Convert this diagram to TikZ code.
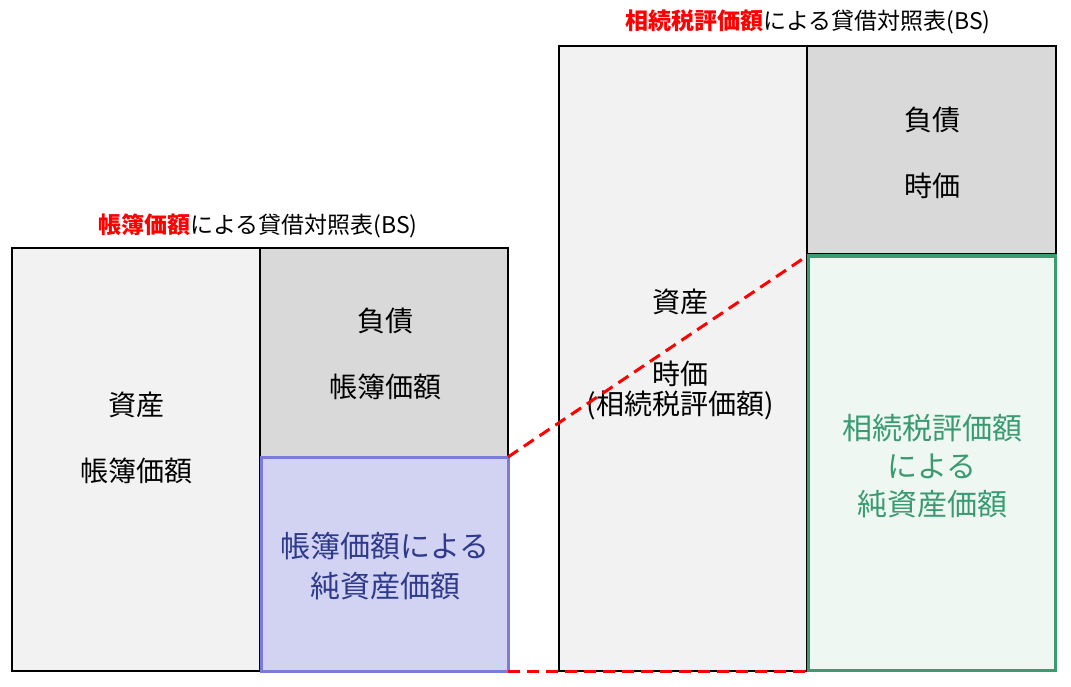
\documentclass[tikz,border=0pt]{standalone}
\usepackage{fontspec}
\setmainfont{Noto Sans CJK JP}
\usetikzlibrary{positioning}
\definecolor{assetgray}{HTML}{F2F2F2}
\definecolor{debtgray}{HTML}{D9D9D9}
\definecolor{bookfill}{HTML}{D2D2F3}
\definecolor{bookline}{HTML}{7B7BDB}
\definecolor{booktext}{HTML}{2E3A8C}
\definecolor{evalfill}{HTML}{EEF7F2}
\definecolor{evalline}{HTML}{3A9A70}
\definecolor{titlered}{HTML}{FF0000}
\begin{document}
\begin{tikzpicture}[x=1pt,y=-1pt,
        asset/.style={draw=black, fill=assetgray, line width=1.2pt},
        debt/.style={draw=black, fill=debtgray, line width=1.2pt},
        body/.style={font=\fontsize{28}{36}\selectfont, align=center},
        title/.style={font=\fontsize{23}{28}\selectfont},
        link/.style={draw=titlered, dash pattern=on 12pt off 7pt, line width=3pt}
    ]
    \useasboundingbox (0,0) rectangle (1071,687);

    % Left balance sheet (book value)
    \draw[asset] (12,248) rectangle (260,671);
    \draw[debt] (260,248) rectangle (508,457);
    \draw[fill=bookfill, draw=bookline, line width=3pt] (261,457) rectangle (508,671);
    \node[title] (booktitle) at (258,226) {\textcolor{titlered}{\bfseries 帳簿価額}による貸借対照表(BS)};
    \node[body] (bookasset) at (136,438) {資産\\[30pt]帳簿価額};
    \node[body] (bookdebt) at (385,354) {負債\\[30pt]帳簿価額};
    \node[body, text=booktext, font=\fontsize{30}{40}\selectfont] (booknet) at (385,566) {帳簿価額による\\純資産価額};
    \coordinate (booktop) at (508,457);
    \coordinate (bookbot) at (508,671);

    % Right balance sheet (inheritance tax value)
    \draw[asset] (559,46) rectangle (807,671);
    \draw[debt] (807,46) rectangle (1056,254);
    \draw[fill=evalfill, draw=evalline, line width=3pt] (808,256) rectangle (1055,670);
    \node[title] (evaltitle) at (808,22) {\textcolor{titlered}{\bfseries 相続税評価額}による貸借対照表(BS)};
    \node[body] (evalasset) at (680,302) {資産};
    \node[body, align=center] (evalasset2) at (680,390) {時価\\[-6pt](相続税評価額)};
    \node[body] (evaldebt) at (932,153) {負債\\[30pt]時価};
    \node[body, text=evalline, font=\fontsize{30}{38}\selectfont] (evalnet) at (932,466) {相続税評価額\\による\\純資産価額};
    \coordinate (evaltop) at (807,256);
    \coordinate (evalbot) at (807,671);

    % Dashed links
    \draw[link] (booktop) -- (evaltop);
    \draw[link] (bookbot) -- (evalbot);
\end{tikzpicture}
\end{document}
